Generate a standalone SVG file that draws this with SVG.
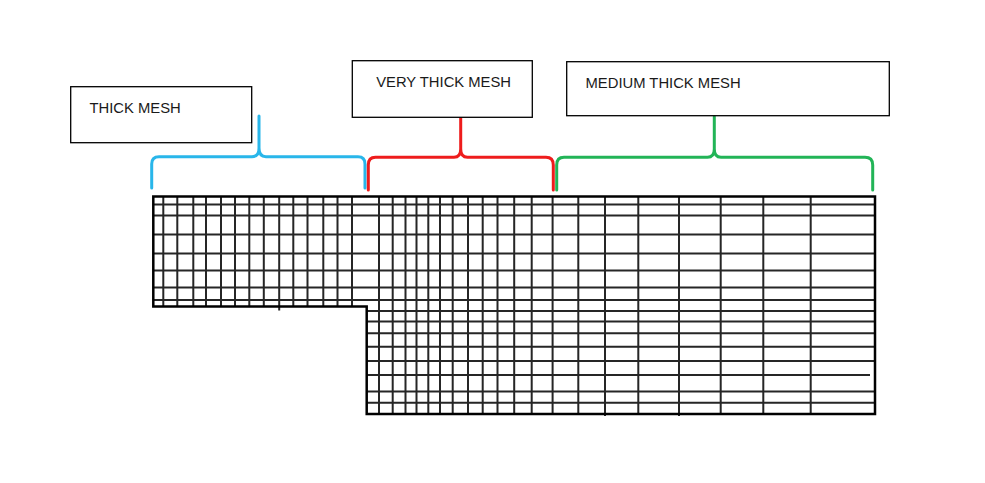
<svg xmlns="http://www.w3.org/2000/svg" width="985" height="483" viewBox="0 0 985 483">
<style>
.box{fill:#fff;stroke:#000;stroke-width:1.3}
.lbl{font-family:"Liberation Sans",Arial,sans-serif;font-size:14.8px;fill:#1a1a1a}
.g{stroke:#262626;stroke-width:2;fill:none}
.b{stroke:#000;stroke-width:2.5;fill:none}
.br{fill:none;stroke-width:3;stroke-linecap:round;stroke-linejoin:round}
</style>
<rect width="985" height="483" fill="#fff"/>
<g id="mesh">
<g class="g">
<path d="M163.3,196.5V306.5M177.3,196.5V306.5M193.3,196.5V306.5M206,196.5V306.5M221,196.5V306.5M235,196.5V306.5M249.3,196.5V306.5M263.8,196.5V306.5M279.2,196.5V310.5M293.3,196.5V306.5M307.5,196.5V306.5M323.3,196.5V306.5M337.5,196.5V306.5M352,196.5V306.5"/>
<path d="M379,196.5V414M392.7,196.5V414M405.5,196.5V414M416.5,196.5V414M428.3,196.5V414M440,196.5V414M452.7,196.5V414M468,196.5V414M482.7,196.5V414M497.5,196.5V414M514.2,196.5V414M531.7,196.5V414M552.6,196.5V414"/>
<path d="M578.3,196.5V414M605,196.5V416M638.3,196.5V414M679,196.5V416M720.7,196.5V414M763.3,196.5V414M810.7,196.5V414"/>
<path d="M153.3,204.5H875M153.3,215.5H875M153.3,234.5H875M153.3,253.5H875M153.3,270.5H875M153.3,287.5H875M153.3,300H875"/>
<path d="M366.7,311H875M366.7,321.5H875M366.7,333.3H875M366.7,346.7H875M366.7,361H875M366.7,375H870M366.7,391.5H875M366.7,402.7H875"/>
</g>
<path class="b" d="M153.3,196.5H875V414H366.7V306.5H153.3Z"/>
</g>
<g id="connectors">
<path class="br" stroke="#29b6ea" d="M151.7,188V164Q151.7,156.7 159,156.7H252Q259,156.7 259,148Q259,156.7 266,156.7H358Q365,156.7 365,164V188M259,148V116"/>
<path class="br" stroke="#ee1c1c" d="M368.3,190V165Q368.3,157.3 375.5,157.3H454Q460.7,157.3 460.7,149Q460.7,157.3 467.5,157.3H546Q553.3,157.3 553.3,165V190M460.7,149V118"/>
<path class="br" stroke="#22b457" d="M556.7,190V165Q556.7,157.3 564,157.3H707.5Q714.3,157.3 714.3,149Q714.3,157.3 721,157.3H865Q872.7,157.3 872.7,165V190M714.3,149V116.5"/>
</g>
<g id="node-thick">
<rect class="box" x="70.7" y="86.7" width="181" height="56"/>
<text class="lbl" x="89.5" y="113.3">THICK MESH</text>
</g>
<g id="node-very-thick">
<rect class="box" x="352.3" y="60.7" width="180" height="56.6"/>
<text class="lbl" x="376.2" y="87.3">VERY THICK MESH</text>
</g>
<g id="node-medium-thick">
<rect class="box" x="566.7" y="61.7" width="322.6" height="54"/>
<text class="lbl" x="585.5" y="88.3">MEDIUM THICK MESH</text>
</g>
</svg>
